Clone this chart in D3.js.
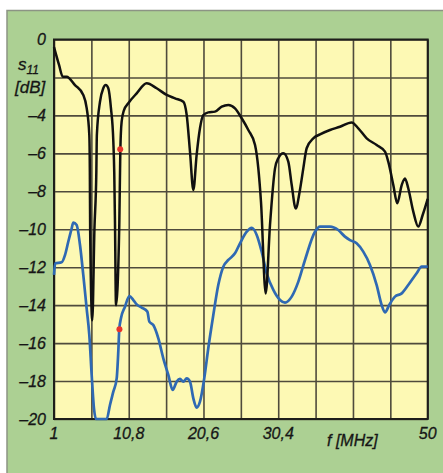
<!DOCTYPE html>
<html>
<head>
<meta charset="utf-8">
<script src="https://cdn.jsdelivr.net/npm/d3@7"></script>
<style>
html,body{margin:0;padding:0;background:#fff;}
svg{display:block;}
text{font-family:"Liberation Sans",Arial,sans-serif;font-style:italic;fill:#161616;stroke:#161616;stroke-width:0.3px;}
</style>
</head>
<body>
<svg id="chart" width="443" height="473"></svg>
<script>
// ---- data ----
const xTicks = [1, 5.9, 10.8, 15.7, 20.6, 25.5, 30.4, 35.3, 40.2, 45.1, 50];
const xTickLabels = ["1", "", "10,8", "", "20,6", "", "30,4", "", "", "", "50"];
const yTicks = [0, -2, -4, -6, -8, -10, -12, -14, -16, -18, -20];
const yTickLabels = ["0", "", "–4", "–6", "–8", "–10", "–12", "–14", "–16", "–18", "–20"];

const blackFreq = [1, 1.66, 2.14, 2.66, 3.75, 4.84, 5.28, 5.63, 5.7, 5.74, 6.02, 6.3, 6.55, 6.62, 7.03, 7.46, 7.78, 8.12, 8.47, 8.78, 8.9, 9.0, 9.13, 9.56, 9.7, 9.87, 10.18, 10.74, 11.84, 13.15, 14.46, 15.77, 16.87, 17.96, 18.4, 18.83, 19.27, 19.7, 20.14, 20.58, 21.23, 22.11, 22.99, 23.86, 24.73, 25.61, 26.48, 27.36, 27.79, 28.14, 28.76, 29.32, 29.98, 30.41, 31.07, 31.72, 32.17, 32.69, 33.26, 33.69, 34.13, 35.0, 35.88, 37.19, 38.5, 40.03, 40.9, 42.0, 43.31, 44.4, 44.83, 45.49, 46.01, 46.59, 47.02, 47.45, 48.11, 48.76, 49.34, 50];
const blackDb = [-0.4, -1.34, -1.96, -1.96, -2.4, -2.92, -3.6, -5.03, -7.0, -10.0, -14.8, -10.0, -7.0, -5.03, -3.28, -2.57, -2.4, -2.57, -3.63, -5.38, -7.0, -9.78, -14.0, -9.78, -5.79, -4.33, -3.72, -3.36, -2.84, -2.31, -2.57, -2.92, -3.1, -3.28, -3.98, -5.91, -7.93, -6.09, -4.68, -3.98, -3.84, -3.8, -3.54, -3.45, -3.63, -4.15, -4.77, -5.56, -6.79, -8.55, -13.38, -9.78, -6.79, -6.26, -6.0, -6.44, -7.67, -8.9, -7.9, -6.79, -5.73, -5.21, -5.0, -4.77, -4.6, -4.37, -4.68, -5.21, -5.56, -5.91, -6.44, -7.67, -8.63, -7.67, -7.32, -7.84, -9.07, -9.86, -9.25, -8.4];

const blueFreq = [1, 1.15, 2.0, 2.44, 2.87, 3.32, 3.53, 3.97, 4.41, 4.84, 5.28, 5.63, 5.94, 6.24, 6.5, 7.91, 8.34, 8.78, 9.22, 9.43, 9.56, 9.78, 10.31, 10.88, 11.4, 11.84, 12.5, 13.24, 13.5, 14.02, 14.68, 15.33, 15.99, 16.56, 17.09, 17.52, 17.96, 18.4, 18.83, 19.27, 19.7, 20.14, 20.7, 21.23, 21.89, 22.54, 23.2, 23.86, 24.73, 25.39, 26.27, 26.92, 27.58, 28.23, 28.89, 29.76, 30.64, 31.29, 32.17, 33.04, 33.91, 35.22, 35.88, 37.19, 38.27, 39.15, 39.81, 40.68, 41.55, 42.43, 43.31, 43.96, 44.4, 44.96, 45.71, 46.59, 47.45, 48.55, 49.21, 50];
const blueDb = [-12.4, -11.8, -11.74, -11.36, -10.66, -9.95, -9.65, -9.78, -10.83, -12.41, -14.17, -15.57, -17.68, -19.44, -20.0, -20.0, -19.26, -18.56, -17.86, -16.45, -15.27, -14.69, -14.08, -13.52, -13.73, -13.96, -14.13, -14.34, -14.87, -15.05, -15.75, -16.8, -17.68, -18.47, -18.03, -17.89, -18.03, -17.86, -18.03, -18.91, -19.4, -19.09, -17.86, -16.27, -14.52, -12.94, -11.97, -11.62, -11.27, -10.74, -10.13, -9.92, -10.3, -11.18, -12.32, -13.2, -13.73, -13.87, -13.55, -12.76, -11.62, -10.13, -9.86, -9.86, -10.04, -10.39, -10.57, -10.74, -11.18, -11.88, -12.94, -13.99, -14.38, -13.99, -13.55, -13.38, -12.94, -12.32, -11.97, -11.97];

const markerFreq = [9.68, 9.58];
const markerDb = [-5.79, -15.27];

// ---- drawing ----
const svg = d3.select("#chart");
const L = 54, T = 39.5, R = 427.7, B = 419;
const x = d3.scaleLinear().domain([1, 50]).range([L, R]);
const y = d3.scaleLinear().domain([0, -20]).range([T, B]);

// green panel
svg.append("rect").attr("x", 7).attr("y", 10.5).attr("width", 443).attr("height", 470)
  .attr("fill", "#acd093").attr("stroke", "#8c9484").attr("stroke-width", 1.5);

// plot area
svg.append("rect").attr("x", L).attr("y", T).attr("width", R - L).attr("height", B - T)
  .attr("fill", "#fdf9b4");

// grid via axes
const gx = svg.append("g").attr("transform", `translate(0,${B})`)
  .call(d3.axisBottom(x).tickValues(xTicks).tickSize(-(B - T)).tickFormat(""));
const gy = svg.append("g").attr("transform", `translate(${L},0)`)
  .call(d3.axisLeft(y).tickValues(yTicks).tickSize(-(R - L)).tickFormat(""));
[gx, gy].forEach(g => {
  g.select(".domain").remove();
  g.selectAll(".tick line").attr("stroke", "#4f4b3c").attr("stroke-width", 1.6);
});

// frame
svg.append("rect").attr("x", L).attr("y", T).attr("width", R - L).attr("height", B - T)
  .attr("fill", "none").attr("stroke", "#1e1e1a").attr("stroke-width", 2);

// x labels
svg.append("g").selectAll("text").data(xTicks).join("text")
  .attr("x", d => x(d)).attr("y", 439)
  .attr("text-anchor", "middle").attr("font-size", 16)
  .text((d, i) => xTickLabels[i]);
svg.append("text").attr("x", 327).attr("y", 446).attr("font-size", 16).text("f [MHz]");

// y labels
svg.append("g").selectAll("text").data(yTicks).join("text")
  .attr("x", 46).attr("y", d => y(d)).attr("dy", "0.36em")
  .attr("text-anchor", "end").attr("font-size", 16)
  .text((d, i) => yTickLabels[i]);
const s = svg.append("text").attr("x", 18).attr("y", 70).attr("font-size", 17);
s.append("tspan").text("s");
s.append("tspan").attr("font-size", 12).attr("dy", 4).text("11");
svg.append("text").attr("x", 15).attr("y", 93).attr("font-size", 17).text("[dB]");

// curves
const line = d3.line().x(d => x(d[0])).y(d => y(d[1])).curve(d3.curveMonotoneX);
const blueData = blueFreq.map((f, i) => [f, blueDb[i]]);
const blackData = blackFreq.map((f, i) => [f, blackDb[i]]);

svg.append("path").datum(blueData).attr("d", line)
  .attr("fill", "none").attr("stroke", "#2f69b3").attr("stroke-width", 2.7)
  .attr("stroke-linejoin", "round");
svg.append("path").datum(blackData).attr("d", line)
  .attr("fill", "none").attr("stroke", "#111").attr("stroke-width", 2.5)
  .attr("stroke-linejoin", "round");

// markers
svg.append("g").selectAll("circle").data(markerFreq).join("circle")
  .attr("cx", d => x(d)).attr("cy", (d, i) => y(markerDb[i])).attr("r", 3)
  .attr("fill", "#e8332b");
</script>
</body>
</html>
